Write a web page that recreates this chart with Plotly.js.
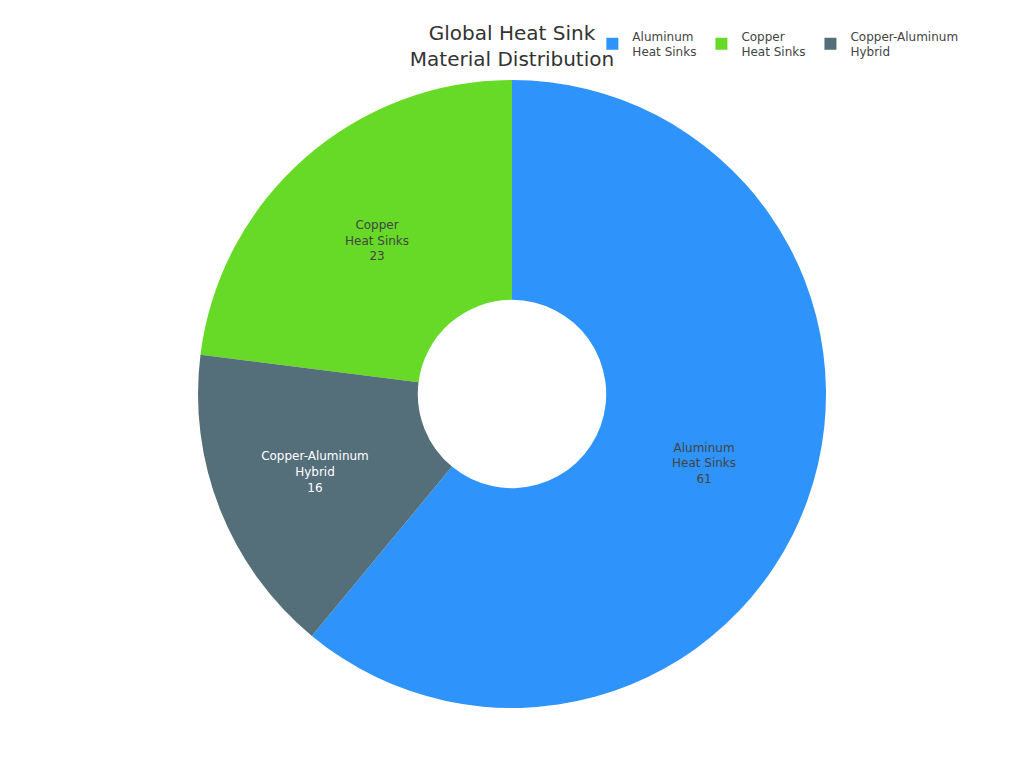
<!DOCTYPE html>
<html>
<head>
<meta charset="utf-8">
<script src="https://cdn.plot.ly/plotly-3.0.1.min.js"></script>
<style>html,body{margin:0;padding:0;background:#fff;}#chart{width:1024px;height:768px;}</style>
</head>
<body>
<div id="chart"></div>
<script>
var labels = ["Aluminum<br>Heat Sinks", "Copper<br>Heat Sinks", "Copper-Aluminum<br>Hybrid"];
var values = [61, 23, 16];
var colors = ["#2E93FA", "#66DA26", "#546E7A"];

var data = [{
  type: "pie",
  labels: labels,
  values: values,
  hole: 0.3,
  sort: true,
  direction: "counterclockwise",
  textinfo: "label+value",
  textposition: "inside",
  insidetextorientation: "horizontal",
  marker: {colors: colors, line: {width: 0}},
  textfont: {size: 12}
}];

var layout = {
  width: 1024,
  height: 768,
  font: {family: "DejaVu Sans, sans-serif", size: 12, color: "#444"},
  title: {text: "Global Heat Sink<br>Material Distribution", x: 0.5, xanchor: "center", y: 0.948, yanchor: "middle", font: {size: 20, color: "#333"}},
  showlegend: true,
  legend: {orientation: "h", x: 0.593, xanchor: "left", y: 1.057, yanchor: "middle", font: {size: 12}},
  margin: {t: 80, b: 60, l: 80, r: 80},
  paper_bgcolor: "#fff"
};

Plotly.newPlot("chart", data, layout, {displayModeBar: false});
</script>
</body>
</html>
